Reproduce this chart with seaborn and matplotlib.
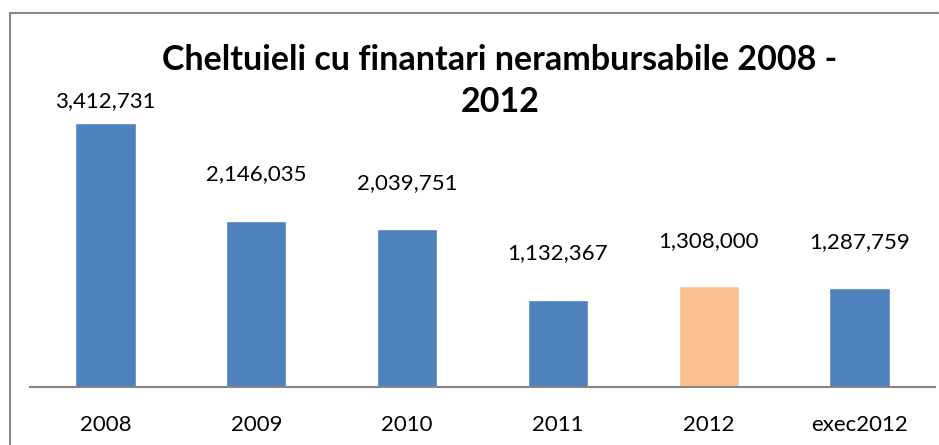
import matplotlib
matplotlib.use("Agg")
import matplotlib.pyplot as plt
import seaborn as sns
import pandas as pd
from matplotlib.lines import Line2D

categories = ["2008", "2009", "2010", "2011", "2012", "exec2012"]
values = [3412731, 2146035, 2039751, 1132367, 1308000, 1287759]
bar_colors = ["#4F81BD", "#4F81BD", "#4F81BD", "#4F81BD", "#FAC090", "#4F81BD"]
title = "Cheltuieli cu finantari nerambursabile 2008 -\n2012"

sns.set_theme(style="white")
plt.rcParams["font.family"] = ["Lato", "DejaVu Sans"]

W, H = 939, 445
fig = plt.figure(figsize=(W / 100, H / 100), dpi=100)
ax = fig.add_axes([30 / W, 1 - 387 / H, (935 - 30) / W, (387 - 78) / H])

df = pd.DataFrame({"cat": categories, "val": values})
sns.barplot(data=df, x="cat", y="val", hue="cat", palette=bar_colors,
            width=0.4, legend=False, ax=ax, saturation=1)

ax.set_xlim(-0.5, len(categories) - 0.5)
ax.set_ylim(0, 4000000)
ax.set_xlabel("")
ax.set_ylabel("")
ax.set_yticks([])
for s in ["top", "right", "left"]:
    ax.spines[s].set_visible(False)
ax.spines["bottom"].set_color("#868686")
ax.spines["bottom"].set_linewidth(1.5)
ax.set_xticks(range(len(categories)))
ax.set_xticklabels(categories, fontsize=16, color="black")
ax.tick_params(axis="x", which="major", length=0, pad=20)
ax.set_xticks([i - 0.5 for i in range(len(categories) + 1)], minor=True)
ax.tick_params(axis="x", which="minor", length=7, width=1.5, color="#868686", direction="out")

offsets_px = [22, 47, 46, 46, 45, 45]
for i, (v, off) in enumerate(zip(values, offsets_px)):
    ax.annotate(f"{v:,}", xy=(i, v), xytext=(0, off * 0.72), textcoords="offset points",
                ha="center", va="center", fontsize=16, color="black")

fig.text(500 / W, 1 - 81 / H, title, ha="center", va="center", fontsize=24.5,
         fontweight="bold", linespacing=1.35, color="black")

fig.add_artist(Line2D([10 / W, 10 / W], [0, 1 - 13 / H], transform=fig.transFigure,
                      color="#888888", lw=1.5))
fig.add_artist(Line2D([10 / W, 938 / W], [1 - 13 / H, 1 - 13 / H], transform=fig.transFigure,
                      color="#888888", lw=1.5))

fig.savefig("out.png", dpi=100)
